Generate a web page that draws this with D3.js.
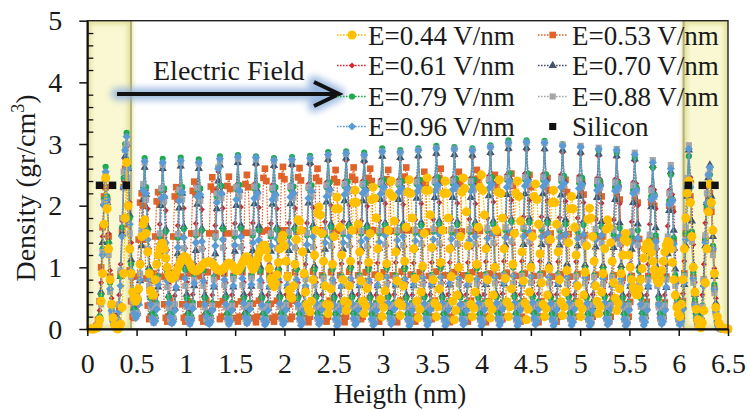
<!DOCTYPE html>
<html>
<head>
<meta charset="utf-8">
<script src="https://cdn.jsdelivr.net/npm/d3@7"></script>
<style>
  body { margin: 0; background: #fff; }
  svg { display: block; }
  text { font-family: "Liberation Serif", "Times New Roman", serif; fill: #1a1a1a; }
</style>
</head>
<body>
<svg id="chart" width="749" height="410"></svg>
<script>
// Sampling positions across the channel (nm)
const heights = [
  0.033,0.048,0.064,0.079,0.094,0.109,0.125,0.140,
  0.155,0.170,0.186,0.201,0.216,0.231,0.247,0.262,
  0.277,0.292,0.308,0.323,0.338,0.353,0.369,0.384,
  0.399,0.414,0.430,0.445,0.460,0.475,0.491,0.506,
  0.521,0.536,0.552,0.567,0.582,0.597,0.613,0.628,
  0.643,0.658,0.674,0.689,0.704,0.719,0.735,0.750,
  0.765,0.780,0.796,0.811,0.826,0.841,0.857,0.872,
  0.887,0.902,0.918,0.933,0.948,0.963,0.979,0.994,
  1.009,1.024,1.040,1.055,1.070,1.085,1.101,1.116,
  1.131,1.146,1.162,1.177,1.192,1.207,1.223,1.238,
  1.253,1.268,1.284,1.299,1.314,1.329,1.345,1.360,
  1.375,1.390,1.406,1.421,1.436,1.451,1.467,1.482,
  1.497,1.512,1.528,1.543,1.558,1.573,1.589,1.604,
  1.619,1.634,1.650,1.665,1.680,1.695,1.711,1.726,
  1.741,1.756,1.772,1.787,1.802,1.817,1.833,1.848,
  1.863,1.878,1.894,1.909,1.924,1.939,1.955,1.970,
  1.985,2.000,2.016,2.031,2.046,2.061,2.077,2.092,
  2.107,2.122,2.138,2.153,2.168,2.183,2.199,2.214,
  2.229,2.244,2.260,2.275,2.290,2.305,2.321,2.336,
  2.351,2.366,2.382,2.397,2.412,2.427,2.443,2.458,
  2.473,2.488,2.504,2.519,2.534,2.549,2.565,2.580,
  2.595,2.610,2.626,2.641,2.656,2.671,2.687,2.702,
  2.717,2.732,2.748,2.763,2.778,2.793,2.809,2.824,
  2.839,2.854,2.870,2.885,2.900,2.915,2.931,2.946,
  2.961,2.976,2.992,3.007,3.022,3.037,3.053,3.068,
  3.083,3.098,3.114,3.129,3.144,3.159,3.175,3.190,
  3.205,3.220,3.236,3.251,3.266,3.281,3.297,3.312,
  3.327,3.342,3.358,3.373,3.388,3.403,3.419,3.434,
  3.449,3.464,3.480,3.495,3.510,3.525,3.541,3.556,
  3.571,3.586,3.602,3.617,3.632,3.647,3.663,3.678,
  3.693,3.708,3.724,3.739,3.754,3.769,3.785,3.800,
  3.815,3.830,3.846,3.861,3.876,3.891,3.907,3.922,
  3.937,3.952,3.968,3.983,3.998,4.013,4.029,4.044,
  4.059,4.074,4.090,4.105,4.120,4.135,4.151,4.166,
  4.181,4.196,4.212,4.227,4.242,4.257,4.273,4.288,
  4.303,4.318,4.334,4.349,4.364,4.379,4.395,4.410,
  4.425,4.440,4.456,4.471,4.486,4.501,4.517,4.532,
  4.547,4.562,4.578,4.593,4.608,4.623,4.639,4.654,
  4.669,4.684,4.700,4.715,4.730,4.745,4.761,4.776,
  4.791,4.806,4.822,4.837,4.852,4.867,4.883,4.898,
  4.913,4.928,4.944,4.959,4.974,4.989,5.005,5.020,
  5.035,5.050,5.066,5.081,5.096,5.111,5.127,5.142,
  5.157,5.172,5.188,5.203,5.218,5.233,5.249,5.264,
  5.279,5.294,5.310,5.325,5.340,5.355,5.371,5.386,
  5.401,5.416,5.432,5.447,5.462,5.477,5.493,5.508,
  5.523,5.538,5.554,5.569,5.584,5.599,5.615,5.630,
  5.645,5.660,5.676,5.691,5.706,5.721,5.737,5.752,
  5.767,5.782,5.798,5.813,5.828,5.843,5.859,5.874,
  5.889,5.904,5.920,5.935,5.950,5.965,5.981,5.996,
  6.011,6.026,6.042,6.057,6.072,6.087,6.103,6.118,
  6.133,6.148,6.164,6.179,6.194,6.209,6.225,6.240,
  6.255,6.270,6.286,6.301,6.316,6.331,6.347,6.362,
  6.377,6.392,6.408,6.423,6.438,6.453,6.469,6.484,
  6.499
];

// Water density (gr/cm^3) at each height, one list per applied field
const field044 = [
  0,0,0,0.01,0.02,0.05,0.15,0.45,0.9,1.7,
  2.45,1.95,1.3,0.8,0.4,0.18,0.06,0.02,0,0.02,0.08,0.35,0.9,1.8,
  2.7,2.0,1.3,0.9,0.6,0.5,0.45,0.5,0.65,1.05,1.5,1.7,
  1.77,1.55,1.25,0.9,0.62,0.55,0.55,0.8,1.05,1.2,1.3,1.37,
  1.39,1.3,1.15,1.0,0.88,0.84,0.82,0.83,0.86,0.92,0.98,1.04,
  1.1,1.14,1.17,1.17,1.15,1.1,1.06,1.01,0.97,0.95,0.94,0.95,
  0.97,0.99,1.02,1.05,1.07,1.08,1.09,1.09,1.08,1.06,1.03,1.0,0.97,0.96,
  0.95,0.95,0.97,0.99,1.02,1.05,1.07,1.06,1.04,1.0,0.97,0.95,
  0.95,0.98,1.02,1.07,1.12,1.16,1.17,1.13,1.08,1.02,0.97,0.99,
  1.05,1.14,1.22,1.28,1.33,1.36,1.36,1.28,1.15,0.98,0.82,0.73,
  0.69,0.74,0.88,1.08,1.3,1.45,1.52,1.35,1.1,0.85,0.63,0.53,
  0.5,0.7,1.05,1.45,1.77,1.75,1.6,1.25,0.9,0.6,0.4,0.32,
  0.28,0.45,0.8,1.2,1.6,1.88,1.98,1.85,1.55,1.1,0.7,0.4,
  0.25,0.38,0.65,1.05,1.5,1.95,2.14,1.95,1.65,1.2,0.8,0.45,
  0.3,0.42,0.7,1.1,1.6,2.05,2.25,2.05,1.7,1.25,0.78,0.45,
  0.25,0.38,0.66,1.08,1.55,2.1,2.3,2.12,1.8,1.3,0.85,0.48,
  0.2,0.35,0.62,1.06,1.6,2.2,2.4,2.15,1.75,1.25,0.78,0.42,
  0.22,0.38,0.7,1.1,1.65,2.22,2.42,2.2,1.8,1.3,0.82,0.45,
  0.18,0.32,0.6,1.02,1.55,2.25,2.45,2.25,1.85,1.32,0.8,0.42,
  0.2,0.36,0.65,1.08,1.6,2.2,2.4,2.2,1.8,1.3,0.85,0.45,
  0.15,0.3,0.55,1.0,1.5,2.22,2.45,2.28,1.9,1.35,0.82,0.4,
  0.2,0.34,0.6,1.05,1.65,2.3,2.5,2.25,1.85,1.3,0.8,0.42,
  0.18,0.32,0.55,1.0,1.6,2.22,2.42,2.2,1.8,1.3,0.82,0.44,
  0.2,0.36,0.65,1.05,1.55,2.2,2.4,2.15,1.75,1.25,0.78,0.42,
  0.15,0.32,0.6,1.0,1.5,2.15,2.35,2.1,1.7,1.22,0.75,0.4,
  0.2,0.33,0.55,0.98,1.45,2.05,2.25,2.05,1.7,1.25,0.8,0.44,
  0.22,0.36,0.6,0.95,1.4,1.95,2.15,1.95,1.65,1.2,0.7,0.42,
  0.2,0.33,0.55,0.92,1.35,1.78,1.96,1.8,1.5,1.1,0.7,0.45,
  0.25,0.36,0.6,0.9,1.3,1.62,1.77,1.65,1.4,1.1,0.75,0.5,
  0.3,0.42,0.65,0.9,1.2,1.45,1.55,1.42,1.2,1.0,0.8,0.68,
  0.6,0.56,0.55,0.65,0.8,0.98,1.15,1.3,1.38,1.4,1.35,1.24,
  1.1,0.96,0.85,0.78,0.75,0.82,0.95,1.1,1.25,1.36,1.42,1.4,
  1.3,1.08,0.8,0.55,0.35,0.24,0.2,0.4,0.8,1.3,1.8,2.2,
  2.4,2.05,1.5,1.0,0.6,0.32,0.15,0.06,0.02,0.1,0.3,0.75,1.3,1.9,
  2.35,2.05,1.6,0.9,0.35,0.2,0.1,0.05,0.02,0.01,0,0,0
];
const field053 = [
  0,0,0,0.01,0.05,0.15,0.45,1.0,1.65,2.15,
  2.3,2.1,1.5,0.85,0.4,0.15,0.06,0.05,0.12,0.35,0.9,1.6,2.3,
  2.6,2.35,1.7,0.95,0.45,0.2,0.18,0.4,0.85,1.45,2.05,
  2.2,2.0,1.45,0.82,0.38,0.16,0.2,0.45,0.9,1.5,2.07,
  2.22,2.02,1.5,0.85,0.4,0.18,0.12,0.2,0.45,0.9,1.5,2.15,
  2.3,2.1,1.5,0.85,0.4,0.18,0.12,0.2,0.45,0.9,1.55,2.24,
  2.39,2.19,1.55,0.86,0.4,0.18,0.12,0.2,0.46,0.92,1.55,2.31,
  2.46,2.26,1.55,0.85,0.4,0.16,0.2,0.45,0.9,1.55,2.32,
  2.47,2.27,1.55,0.86,0.4,0.18,0.12,0.2,0.45,0.92,1.56,2.35,
  2.5,2.3,1.56,0.86,0.41,0.18,0.11,0.2,0.46,0.93,1.58,2.45,
  2.6,2.4,1.6,0.88,0.41,0.18,0.12,0.2,0.46,0.93,1.6,2.48,
  2.63,2.43,1.6,0.87,0.4,0.16,0.2,0.46,0.92,1.58,2.46,
  2.61,2.41,1.6,0.88,0.41,0.18,0.11,0.2,0.46,0.93,1.6,2.45,
  2.6,2.4,1.6,0.87,0.4,0.18,0.12,0.2,0.46,0.92,1.59,2.43,
  2.58,2.38,1.59,0.87,0.41,0.18,0.11,0.2,0.46,0.93,1.6,2.47,
  2.62,2.42,1.6,0.87,0.4,0.16,0.2,0.46,0.92,1.59,2.45,
  2.6,2.4,1.6,0.88,0.41,0.18,0.12,0.2,0.46,0.92,1.59,2.43,
  2.58,2.38,1.59,0.87,0.4,0.18,0.11,0.2,0.46,0.93,1.6,2.47,
  2.62,2.42,1.6,0.88,0.41,0.18,0.12,0.2,0.46,0.92,1.57,2.4,
  2.55,2.35,1.58,0.86,0.4,0.16,0.2,0.46,0.93,1.6,2.45,
  2.6,2.4,1.6,0.87,0.41,0.18,0.11,0.2,0.46,0.92,1.57,2.4,
  2.55,2.35,1.58,0.87,0.4,0.18,0.12,0.2,0.46,0.92,1.58,2.43,
  2.58,2.38,1.59,0.87,0.41,0.18,0.11,0.2,0.45,0.9,1.55,2.35,
  2.5,2.3,1.56,0.86,0.4,0.16,0.2,0.45,0.91,1.56,2.37,
  2.52,2.32,1.57,0.86,0.41,0.18,0.12,0.2,0.45,0.9,1.55,2.35,
  2.5,2.3,1.56,0.86,0.4,0.18,0.11,0.2,0.45,0.9,1.53,2.3,
  2.45,2.25,1.55,0.85,0.4,0.18,0.12,0.2,0.45,0.89,1.52,2.27,
  2.42,2.22,1.54,0.85,0.4,0.16,0.2,0.45,0.89,1.5,2.23,
  2.38,2.18,1.52,0.84,0.4,0.18,0.11,0.2,0.44,0.88,1.5,2.2,
  2.35,2.15,1.5,0.84,0.4,0.18,0.12,0.2,0.44,0.87,1.48,2.15,
  2.3,2.1,1.48,0.83,0.4,0.18,0.11,0.2,0.44,0.86,1.45,2.1,
  2.25,2.05,1.46,0.82,0.39,0.16,0.2,0.44,0.86,1.44,2.05,
  2.2,2.0,1.44,0.82,0.39,0.18,0.12,0.2,0.43,0.85,1.42,2.0,
  2.15,1.95,1.42,0.8,0.38,0.17,0.11,0.2,0.45,0.9,1.55,2.25,
  2.4,2.15,1.52,0.84,0.4,0.17,0.08,0.06,0.12,0.32,0.8,1.45,1.95,2.1,
  2.2,1.9,1.3,0.65,0.28,0.1,0.03,0.01,0,0,0,0,0
];
const field061 = [
  0,0,0,0.01,0.04,0.1,0.3,0.75,1.5,2.1,
  2.4,2.05,1.55,0.95,0.5,0.24,0.14,0.14,0.25,0.55,1.05,1.75,2.4,2.75,
  2.95,2.6,2.05,1.4,0.82,0.45,0.3,0.36,0.6,1.1,1.75,2.35,
  2.6,2.25,1.95,1.3,0.75,0.38,0.22,0.3,0.55,1.05,1.7,2.3,
  2.58,2.23,1.92,1.28,0.74,0.37,0.21,0.29,0.54,1.03,1.68,2.28,
  2.62,2.27,1.96,1.31,0.76,0.38,0.22,0.3,0.56,1.06,1.71,2.32,
  2.6,2.25,1.94,1.3,0.75,0.38,0.23,0.22,0.3,0.55,1.04,1.68,2.25,2.55,
  2.64,2.29,1.96,1.31,0.75,0.37,0.22,0.3,0.55,1.05,1.71,2.33,
  2.68,2.32,1.98,1.32,0.76,0.38,0.22,0.3,0.56,1.06,1.72,2.35,
  2.66,2.31,1.97,1.31,0.75,0.37,0.21,0.29,0.55,1.05,1.71,2.34,
  2.62,2.27,1.95,1.3,0.76,0.38,0.22,0.3,0.56,1.06,1.72,2.34,
  2.64,2.29,1.96,1.31,0.75,0.37,0.21,0.29,0.55,1.05,1.72,2.35,
  2.66,2.31,1.97,1.32,0.76,0.38,0.22,0.3,0.56,1.07,1.74,2.38,
  2.72,2.36,2.0,1.33,0.75,0.37,0.21,0.29,0.55,1.06,1.74,2.4,
  2.73,2.37,2.01,1.34,0.76,0.38,0.22,0.3,0.56,1.07,1.75,2.4,
  2.7,2.35,1.99,1.33,0.75,0.37,0.21,0.29,0.55,1.07,1.76,2.42,
  2.78,2.41,2.03,1.35,0.76,0.38,0.22,0.3,0.56,1.08,1.76,2.42,
  2.75,2.39,2.02,1.34,0.75,0.37,0.21,0.29,0.55,1.07,1.77,2.44,
  2.78,2.41,2.03,1.35,0.76,0.38,0.22,0.3,0.56,1.08,1.78,2.45,
  2.82,2.45,2.05,1.36,0.75,0.37,0.21,0.29,0.56,1.08,1.78,2.45,
  2.8,2.43,2.04,1.36,0.76,0.38,0.22,0.3,0.56,1.08,1.78,2.45,
  2.78,2.42,2.03,1.35,0.75,0.37,0.21,0.29,0.56,1.09,1.8,2.48,
  2.83,2.46,2.06,1.37,0.76,0.38,0.22,0.3,0.57,1.1,1.81,2.5,
  2.9,2.52,2.09,1.38,0.76,0.37,0.21,0.29,0.56,1.1,1.82,2.52,
  2.9,2.52,2.09,1.38,0.76,0.38,0.22,0.3,0.57,1.1,1.82,2.51,
  2.9,2.51,2.08,1.37,0.75,0.37,0.21,0.29,0.56,1.09,1.81,2.5,
  2.86,2.48,2.07,1.37,0.76,0.38,0.22,0.3,0.56,1.09,1.8,2.48,
  2.83,2.46,2.05,1.36,0.75,0.37,0.21,0.29,0.56,1.08,1.78,2.45,
  2.8,2.43,2.04,1.35,0.76,0.38,0.22,0.3,0.56,1.08,1.77,2.43,
  2.78,2.41,2.03,1.35,0.75,0.37,0.21,0.29,0.55,1.06,1.74,2.38,
  2.72,2.36,2.0,1.33,0.76,0.38,0.22,0.3,0.55,1.05,1.7,2.3,
  2.6,2.26,1.95,1.3,0.75,0.38,0.22,0.3,0.55,1.04,1.67,2.25,
  2.5,2.18,1.9,1.28,0.74,0.37,0.21,0.3,0.57,1.1,1.8,2.45,
  2.82,2.46,2.06,1.37,0.76,0.38,0.23,0.22,0.3,0.55,1.05,1.72,2.3,2.48,
  2.52,2.15,1.62,0.98,0.5,0.2,0.07,0.02,0,0,0,0,0
];
const field070 = [
  0,0,0,0,0.02,0.06,0.22,0.6,1.4,2.05,
  2.45,2.05,1.42,0.8,0.4,0.18,0.1,0.1,0.18,0.4,0.85,1.55,2.3,2.8,
  3.0,2.6,1.85,1.12,0.62,0.34,0.24,0.28,0.42,0.78,1.35,2.1,
  2.62,2.18,1.65,1.0,0.55,0.28,0.16,0.2,0.35,0.68,1.25,2.0,
  2.6,2.15,1.62,0.98,0.54,0.27,0.15,0.19,0.34,0.66,1.22,1.96,
  2.64,2.2,1.66,1.01,0.56,0.28,0.16,0.2,0.36,0.7,1.27,2.02,
  2.6,2.16,1.63,0.99,0.55,0.28,0.17,0.15,0.2,0.35,0.68,1.22,1.95,2.4,
  2.66,2.21,1.66,1.0,0.55,0.27,0.16,0.2,0.35,0.68,1.26,2.0,
  2.7,2.25,1.68,1.02,0.56,0.28,0.16,0.2,0.36,0.69,1.27,2.03,
  2.69,2.24,1.67,1.01,0.55,0.27,0.15,0.19,0.35,0.68,1.26,2.02,
  2.65,2.2,1.65,1.0,0.56,0.28,0.16,0.2,0.36,0.69,1.27,2.03,
  2.67,2.22,1.66,1.0,0.55,0.27,0.15,0.19,0.35,0.68,1.27,2.04,
  2.7,2.25,1.68,1.02,0.56,0.28,0.16,0.2,0.36,0.7,1.29,2.06,
  2.75,2.29,1.7,1.02,0.55,0.27,0.15,0.19,0.35,0.69,1.29,2.08,
  2.77,2.31,1.71,1.03,0.56,0.28,0.16,0.2,0.36,0.7,1.3,2.08,
  2.74,2.28,1.69,1.02,0.55,0.27,0.15,0.19,0.35,0.7,1.31,2.1,
  2.8,2.33,1.72,1.03,0.56,0.28,0.16,0.2,0.36,0.71,1.31,2.1,
  2.78,2.31,1.71,1.02,0.55,0.27,0.15,0.19,0.35,0.7,1.32,2.12,
  2.81,2.34,1.73,1.03,0.56,0.28,0.16,0.2,0.36,0.71,1.33,2.13,
  2.85,2.37,1.75,1.04,0.55,0.27,0.15,0.19,0.36,0.71,1.33,2.13,
  2.83,2.36,1.74,1.04,0.56,0.28,0.16,0.2,0.36,0.71,1.33,2.13,
  2.82,2.35,1.73,1.03,0.55,0.27,0.15,0.19,0.36,0.72,1.35,2.16,
  2.86,2.38,1.75,1.04,0.56,0.28,0.16,0.2,0.37,0.73,1.36,2.18,
  2.93,2.44,1.78,1.05,0.56,0.27,0.15,0.19,0.36,0.73,1.37,2.19,
  2.94,2.45,1.79,1.06,0.56,0.28,0.16,0.2,0.37,0.73,1.37,2.19,
  2.92,2.43,1.78,1.05,0.55,0.27,0.15,0.19,0.36,0.72,1.36,2.17,
  2.9,2.41,1.77,1.05,0.56,0.28,0.16,0.2,0.36,0.72,1.35,2.15,
  2.87,2.39,1.75,1.04,0.55,0.27,0.15,0.19,0.36,0.71,1.33,2.13,
  2.84,2.36,1.74,1.03,0.56,0.28,0.16,0.2,0.36,0.71,1.32,2.1,
  2.81,2.34,1.72,1.03,0.55,0.27,0.15,0.19,0.35,0.69,1.29,2.05,
  2.76,2.3,1.7,1.02,0.56,0.28,0.16,0.2,0.35,0.68,1.25,1.98,
  2.65,2.2,1.64,0.99,0.55,0.28,0.16,0.2,0.35,0.67,1.22,1.92,
  2.55,2.12,1.6,0.97,0.54,0.27,0.15,0.2,0.37,0.72,1.35,2.15,
  2.9,2.42,1.75,1.04,0.56,0.28,0.17,0.15,0.2,0.36,0.72,1.35,2.05,2.45,
  2.66,2.15,1.5,0.85,0.42,0.16,0.05,0.01,0,0,0,0,0
];
const field079 = [
  0,0,0,0,0.02,0.05,0.2,0.55,1.3,2.1,
  2.63,2.15,1.4,0.75,0.35,0.16,0.08,0.08,0.15,0.38,0.85,1.65,2.45,3.0,
  3.18,2.65,1.8,1.05,0.6,0.32,0.22,0.28,0.48,0.9,1.55,2.3,
  2.77,2.3,1.6,0.95,0.5,0.25,0.14,0.2,0.42,0.85,1.5,2.25,
  2.76,2.28,1.58,0.93,0.52,0.26,0.15,0.19,0.4,0.83,1.48,2.22,
  2.78,2.3,1.62,0.96,0.5,0.24,0.13,0.2,0.43,0.86,1.52,2.26,
  2.75,2.28,1.6,0.95,0.5,0.25,0.15,0.14,0.2,0.42,0.84,1.48,2.15,2.62,
  2.8,2.32,1.62,0.96,0.51,0.25,0.13,0.19,0.42,0.85,1.5,2.27,
  2.82,2.34,1.63,0.97,0.5,0.24,0.14,0.2,0.43,0.86,1.52,2.28,
  2.8,2.32,1.6,0.94,0.5,0.25,0.12,0.18,0.41,0.84,1.5,2.26,
  2.77,2.3,1.61,0.95,0.51,0.26,0.15,0.2,0.42,0.85,1.51,2.27,
  2.79,2.31,1.62,0.96,0.5,0.24,0.12,0.18,0.41,0.85,1.52,2.28,
  2.81,2.33,1.63,0.96,0.51,0.25,0.14,0.2,0.43,0.86,1.53,2.3,
  2.87,2.38,1.65,0.97,0.5,0.24,0.12,0.18,0.42,0.86,1.54,2.32,
  2.88,2.39,1.66,0.98,0.51,0.25,0.15,0.2,0.43,0.87,1.55,2.33,
  2.86,2.37,1.64,0.96,0.5,0.24,0.12,0.18,0.42,0.86,1.55,2.34,
  2.93,2.42,1.68,0.98,0.51,0.25,0.14,0.2,0.43,0.87,1.56,2.34,
  2.9,2.4,1.66,0.97,0.5,0.24,0.12,0.18,0.42,0.87,1.56,2.35,
  2.93,2.42,1.68,0.98,0.51,0.25,0.13,0.19,0.43,0.88,1.58,2.37,
  2.97,2.46,1.7,0.99,0.5,0.24,0.12,0.18,0.42,0.87,1.57,2.36,
  2.95,2.44,1.69,0.98,0.51,0.25,0.14,0.2,0.43,0.88,1.58,2.37,
  2.93,2.42,1.68,0.98,0.5,0.24,0.12,0.18,0.43,0.89,1.6,2.4,
  2.98,2.46,1.7,0.99,0.51,0.25,0.13,0.19,0.43,0.89,1.6,2.42,
  3.06,2.52,1.74,1.0,0.52,0.25,0.12,0.18,0.43,0.9,1.62,2.43,
  3.06,2.52,1.73,1.0,0.51,0.25,0.14,0.2,0.44,0.9,1.62,2.42,
  3.05,2.51,1.72,0.99,0.5,0.24,0.12,0.18,0.43,0.89,1.6,2.4,
  3.0,2.48,1.7,0.98,0.51,0.25,0.13,0.19,0.43,0.88,1.58,2.37,
  2.96,2.45,1.69,0.98,0.5,0.24,0.12,0.18,0.42,0.87,1.55,2.33,
  2.9,2.4,1.66,0.97,0.51,0.25,0.14,0.2,0.43,0.86,1.53,2.3,
  2.86,2.37,1.64,0.96,0.5,0.24,0.12,0.18,0.42,0.85,1.5,2.25,
  2.78,2.3,1.6,0.94,0.5,0.25,0.13,0.19,0.41,0.83,1.45,2.15,
  2.62,2.18,1.52,0.9,0.49,0.25,0.15,0.2,0.41,0.82,1.42,2.08,
  2.5,2.1,1.48,0.88,0.48,0.24,0.14,0.2,0.43,0.88,1.55,2.3,
  2.8,2.3,1.58,0.92,0.48,0.24,0.14,0.12,0.18,0.38,0.8,1.45,2.0,2.35,
  2.5,2.02,1.35,0.72,0.34,0.13,0.04,0.01,0,0,0,0,0
];
const field088 = [
  0,0,0,0,0.01,0.03,0.12,0.4,1.25,2.05,
  2.5,2.0,1.2,0.6,0.26,0.1,0.05,0.06,0.14,0.4,0.95,1.8,2.55,2.9,
  3.0,2.45,1.55,0.85,0.45,0.25,0.2,0.26,0.45,0.9,1.6,2.35,
  2.7,2.1,1.3,0.7,0.35,0.16,0.1,0.16,0.38,0.8,1.55,2.28,
  2.66,2.07,1.28,0.68,0.34,0.15,0.1,0.17,0.4,0.82,1.54,2.26,
  2.7,2.1,1.31,0.7,0.36,0.16,0.09,0.15,0.37,0.8,1.56,2.29,
  2.68,2.08,1.3,0.7,0.35,0.16,0.1,0.1,0.16,0.38,0.8,1.5,2.2,2.62,
  2.72,2.12,1.32,0.71,0.35,0.15,0.09,0.16,0.38,0.81,1.56,2.3,
  2.76,2.15,1.33,0.71,0.36,0.16,0.1,0.16,0.39,0.82,1.57,2.31,
  2.75,2.14,1.32,0.7,0.35,0.15,0.09,0.15,0.37,0.8,1.55,2.29,
  2.72,2.12,1.31,0.7,0.36,0.16,0.1,0.17,0.39,0.82,1.57,2.31,
  2.74,2.13,1.32,0.7,0.35,0.15,0.09,0.15,0.38,0.81,1.56,2.3,
  2.76,2.15,1.33,0.71,0.36,0.16,0.1,0.16,0.39,0.82,1.58,2.33,
  2.82,2.2,1.35,0.72,0.35,0.15,0.09,0.15,0.38,0.82,1.58,2.35,
  2.84,2.22,1.36,0.72,0.36,0.16,0.1,0.16,0.39,0.83,1.59,2.35,
  2.8,2.19,1.34,0.71,0.35,0.15,0.09,0.15,0.38,0.83,1.6,2.37,
  2.88,2.25,1.37,0.73,0.36,0.16,0.1,0.16,0.39,0.83,1.6,2.37,
  2.86,2.23,1.36,0.72,0.35,0.15,0.09,0.15,0.38,0.83,1.61,2.39,
  2.9,2.26,1.38,0.73,0.36,0.16,0.1,0.16,0.39,0.84,1.62,2.4,
  2.93,2.29,1.39,0.73,0.35,0.15,0.09,0.15,0.39,0.84,1.62,2.4,
  2.92,2.28,1.38,0.73,0.36,0.16,0.1,0.16,0.39,0.84,1.62,2.4,
  2.9,2.26,1.38,0.73,0.35,0.15,0.09,0.15,0.39,0.85,1.64,2.43,
  2.95,2.3,1.4,0.74,0.36,0.16,0.1,0.16,0.4,0.86,1.65,2.45,
  3.0,2.34,1.42,0.75,0.36,0.15,0.09,0.15,0.39,0.86,1.66,2.46,
  3.02,2.35,1.42,0.75,0.36,0.16,0.1,0.16,0.4,0.86,1.66,2.46,
  3.02,2.35,1.42,0.74,0.35,0.15,0.09,0.15,0.39,0.85,1.65,2.44,
  2.99,2.33,1.41,0.74,0.36,0.16,0.1,0.16,0.39,0.85,1.64,2.42,
  2.97,2.31,1.4,0.74,0.35,0.15,0.09,0.15,0.39,0.84,1.62,2.4,
  2.94,2.29,1.39,0.73,0.36,0.16,0.1,0.16,0.39,0.84,1.61,2.38,
  2.92,2.27,1.38,0.73,0.35,0.15,0.09,0.15,0.38,0.82,1.58,2.33,
  2.86,2.23,1.36,0.72,0.36,0.16,0.1,0.16,0.38,0.8,1.53,2.25,
  2.74,2.14,1.32,0.7,0.35,0.16,0.1,0.16,0.38,0.8,1.5,2.2,
  2.66,2.08,1.3,0.7,0.35,0.15,0.09,0.16,0.4,0.86,1.65,2.45,
  2.98,2.34,1.42,0.75,0.36,0.16,0.1,0.09,0.15,0.36,0.8,1.52,2.2,2.5,
  2.6,2.0,1.2,0.58,0.24,0.08,0.02,0,0,0,0,0,0
];
const field096 = [
  0,0,0,0,0.01,0.03,0.15,0.45,1.2,2.0,
  2.55,2.1,1.3,0.65,0.3,0.12,0.06,0.05,0.1,0.28,0.7,1.5,2.3,2.9,
  3.12,2.6,1.7,0.95,0.5,0.25,0.18,0.22,0.4,0.8,1.5,2.25,
  2.72,2.2,1.45,0.8,0.4,0.18,0.1,0.13,0.32,0.72,1.38,2.12,
  2.7,2.15,1.4,0.78,0.42,0.2,0.09,0.12,0.3,0.68,1.32,2.08,
  2.73,2.22,1.48,0.82,0.38,0.16,0.08,0.14,0.33,0.74,1.4,2.15,
  2.7,2.18,1.42,0.78,0.4,0.2,0.1,0.08,0.12,0.3,0.7,1.35,2.05,2.6,
  2.76,2.2,1.45,0.8,0.4,0.17,0.08,0.12,0.3,0.7,1.36,2.1,
  2.79,2.25,1.5,0.82,0.42,0.19,0.09,0.13,0.32,0.72,1.4,2.12,
  2.78,2.2,1.44,0.79,0.39,0.16,0.07,0.11,0.3,0.69,1.35,2.1,
  2.74,2.18,1.46,0.81,0.41,0.18,0.08,0.12,0.31,0.71,1.38,2.14,
  2.75,2.2,1.45,0.8,0.4,0.17,0.06,0.1,0.29,0.7,1.37,2.12,
  2.77,2.24,1.5,0.83,0.42,0.18,0.08,0.12,0.31,0.72,1.4,2.15,
  2.83,2.26,1.48,0.8,0.39,0.16,0.05,0.1,0.3,0.7,1.4,2.18,
  2.85,2.28,1.5,0.82,0.41,0.17,0.07,0.11,0.31,0.72,1.42,2.2,
  2.82,2.25,1.47,0.8,0.4,0.16,0.06,0.1,0.3,0.71,1.41,2.19,
  2.88,2.3,1.52,0.84,0.42,0.18,0.08,0.12,0.32,0.73,1.44,2.22,
  2.87,2.28,1.5,0.81,0.4,0.16,0.05,0.1,0.3,0.72,1.43,2.22,
  2.9,2.3,1.52,0.83,0.41,0.17,0.06,0.11,0.31,0.73,1.45,2.24,
  2.93,2.33,1.54,0.84,0.42,0.17,0.05,0.1,0.31,0.74,1.46,2.26,
  2.92,2.32,1.52,0.82,0.4,0.16,0.07,0.11,0.3,0.72,1.44,2.24,
  2.9,2.3,1.5,0.81,0.41,0.17,0.05,0.1,0.31,0.74,1.47,2.28,
  2.95,2.35,1.55,0.84,0.42,0.17,0.06,0.11,0.32,0.75,1.48,2.3,
  3.02,2.4,1.58,0.86,0.42,0.17,0.05,0.1,0.31,0.75,1.5,2.32,
  3.03,2.4,1.57,0.85,0.43,0.18,0.07,0.12,0.32,0.76,1.5,2.31,
  3.02,2.38,1.55,0.84,0.41,0.16,0.05,0.1,0.31,0.75,1.49,2.3,
  2.97,2.36,1.54,0.84,0.42,0.17,0.06,0.11,0.32,0.74,1.47,2.28,
  2.95,2.34,1.53,0.83,0.41,0.16,0.05,0.1,0.3,0.73,1.45,2.25,
  2.92,2.32,1.52,0.82,0.42,0.17,0.07,0.12,0.32,0.73,1.44,2.24,
  2.9,2.3,1.5,0.81,0.4,0.16,0.05,0.1,0.3,0.71,1.4,2.2,
  2.83,2.25,1.47,0.8,0.4,0.17,0.06,0.11,0.3,0.7,1.36,2.1,
  2.7,2.15,1.42,0.78,0.4,0.18,0.08,0.12,0.3,0.68,1.3,2.02,
  2.6,2.08,1.38,0.76,0.38,0.17,0.07,0.12,0.32,0.75,1.45,2.3,
  2.92,2.3,1.5,0.82,0.4,0.18,0.08,0.06,0.1,0.28,0.7,1.4,2.05,2.5,
  2.62,2.05,1.3,0.65,0.28,0.1,0.03,0.01,0,0,0,0,0
];

// Bulk silicon density at the wall atom layers
const siliconHeights = [0.124, 0.256, 0.396, 6.097, 6.239, 6.368];
const siliconDensity = [2.33, 2.33, 2.33, 2.33, 2.33, 2.33];

// Silicon wall extents (nm)
const wallLeft = [0, 0.443];
const wallRight = [6.05, 6.5];

const fieldLabels = ["E=0.44 V/nm", "E=0.53 V/nm", "E=0.61 V/nm", "E=0.70 V/nm",
                     "E=0.79 V/nm", "E=0.88 V/nm", "E=0.96 V/nm"];
const siliconLabel = "Silicon";
const xTickValues = [0, 0.5, 1, 1.5, 2, 2.5, 3, 3.5, 4, 4.5, 5, 5.5, 6, 6.5];
const yTickValues = [0, 1, 2, 3, 4, 5];

const fieldSeries = [field044, field053, field061, field070, field079, field088, field096];
fieldSeries.forEach((s, i) => {
  if (s.length !== heights.length) throw new Error(fieldLabels[i] + " has " + s.length + " values, expected " + heights.length);
});

// Square turned 45 degrees (spreadsheet-style diamond marker)
const symbolRhomb = {
  draw(ctx, size) {
    const r = Math.sqrt(size / 2);
    ctx.moveTo(0, -r); ctx.lineTo(r, 0); ctx.lineTo(0, r); ctx.lineTo(-r, 0); ctx.closePath();
  }
};

// Marker / line styling per field
const styles = [
  { color: "#FFC000", symbol: d3.symbolCircle,   size: 64, dash: "1.6,1.4" },
  { color: "#E0642A", symbol: d3.symbolSquare,   size: 44, dash: "1.6,1.4" },
  { color: "#D6262C", symbol: symbolRhomb,       size: 18, dash: "1.6,1.4" },
  { color: "#44546A", symbol: d3.symbolTriangle, size: 30, dash: "1.6,1.4" },
  { color: "#1BAA4C", symbol: d3.symbolCircle,   size: 30, dash: "1.6,1.4" },
  { color: "#A6A6A6", symbol: d3.symbolSquare,   size: 38, dash: "1.6,1.4" },
  { color: "#5B9BD5", symbol: symbolRhomb,       size: 34, dash: "2.6,1" }
];

const svg = d3.select("#chart");
const x = d3.scaleLinear().domain([0, 6.5]).range([87.3, 728]);
const y = d3.scaleLinear().domain([0, 5]).range([329, 20.7]);

const defs = svg.append("defs");
defs.append("filter").attr("id", "soft").attr("x", "-20%").attr("y", "-20%").attr("width", "140%").attr("height", "140%")
  .append("feGaussianBlur").attr("stdDeviation", 2);
defs.append("filter").attr("id", "glow").attr("x", "-20%").attr("y", "-200%").attr("width", "140%").attr("height", "500%")
  .append("feGaussianBlur").attr("stdDeviation", 3.5);
defs.append("clipPath").attr("id", "plotClip").append("rect")
  .attr("x", x(0)).attr("y", y(5)).attr("width", x(6.5) - x(0)).attr("height", y(0) - y(5));

// Silicon wall bands
const walls = svg.append("g").attr("clip-path", "url(#plotClip)");
[wallLeft, wallRight].forEach(w => {
  const x0 = x(w[0]), x1 = x(w[1]);
  walls.append("rect").attr("x", x0).attr("y", y(5)).attr("width", x1 - x0).attr("height", y(0) - y(5))
    .attr("fill", "#F9F8D2");
  walls.append("rect").attr("x", x0 + 1).attr("y", y(5) + 1).attr("width", x1 - x0 - 2).attr("height", y(0) - y(5) - 2)
    .attr("fill", "none").attr("stroke", "#E0DE98").attr("stroke-width", 5).attr("filter", "url(#soft)");
});
walls.append("line").attr("x1", x(wallLeft[1])).attr("x2", x(wallLeft[1])).attr("y1", y(5)).attr("y2", y(0))
  .attr("stroke", "#B5B078").attr("stroke-width", 2);
walls.append("line").attr("x1", x(wallRight[0])).attr("x2", x(wallRight[0])).attr("y1", y(5)).attr("y2", y(0))
  .attr("stroke", "#B5B078").attr("stroke-width", 2);

// Density profiles
const plot = svg.append("g");
const drawOrder = [1, 2, 3, 4, 5, 6, 0];
drawOrder.forEach(si => {
  const vals = fieldSeries[si], st = styles[si];
  const line = d3.line().x((d, i) => x(heights[i])).y(d => y(d));
  plot.append("path").datum(vals).attr("d", line)
    .attr("fill", "none").attr("stroke", st.color).attr("stroke-width", 1.2)
    .attr("stroke-dasharray", st.dash);
  plot.append("g").selectAll("path").data(vals).join("path")
    .attr("transform", (d, i) => `translate(${x(heights[i])},${y(d)})`)
    .attr("d", d3.symbol().type(st.symbol).size(st.size))
    .attr("fill", st.color);
});
plot.append("g").selectAll("path").data(siliconDensity).join("path")
  .attr("transform", (d, i) => `translate(${x(siliconHeights[i])},${y(d)})`)
  .attr("d", d3.symbol().type(d3.symbolSquare).size(56))
  .attr("fill", "#111");

// Frame
svg.append("rect").attr("x", x(0)).attr("y", y(5)).attr("width", x(6.5) - x(0)).attr("height", y(0) - y(5))
  .attr("fill", "none").attr("stroke", "#222").attr("stroke-width", 1.4);

// Axes
const fmt = d => String(d);
const xAxis = svg.append("g").attr("transform", `translate(0,${y(0)})`)
  .call(d3.axisBottom(x).tickValues(xTickValues).tickSize(7).tickSizeOuter(0).tickFormat(fmt));
xAxis.select(".domain").attr("stroke", "#111").attr("stroke-width", 2);
xAxis.selectAll(".tick line").attr("stroke", "#111").attr("stroke-width", 1.5);
xAxis.selectAll(".tick text").attr("font-size", 28).attr("font-family", "Liberation Serif").attr("fill", "#1a1a1a")
  .attr("dy", null).attr("y", 43.5);

const yAxis = svg.append("g").attr("transform", `translate(${x(0)},0)`)
  .call(d3.axisLeft(y).tickValues(yTickValues).tickSize(8).tickSizeOuter(0).tickFormat(fmt));
yAxis.select(".domain").attr("stroke", "#111").attr("stroke-width", 2);
yAxis.selectAll(".tick line").attr("stroke", "#111").attr("stroke-width", 1.5);
yAxis.selectAll(".tick text").attr("font-size", 28).attr("font-family", "Liberation Serif").attr("fill", "#1a1a1a")
  .attr("x", -25).attr("dy", "0.33em");

const minorY = d3.range(0, 25).map(i => i * 0.2).filter(v => Math.abs(v - Math.round(v)) > 1e-6);
const yMinor = svg.append("g").attr("transform", `translate(${x(0)},0)`)
  .call(d3.axisRight(y).tickValues(minorY).tickSize(6).tickFormat(""));
yMinor.select(".domain").remove();
yMinor.selectAll(".tick line").attr("stroke", "#111").attr("stroke-width", 1.3);

// Axis titles
svg.append("text").attr("x", 400).attr("y", 403).attr("text-anchor", "middle")
  .attr("font-size", 27).text("Heigth (nm)");
const yt = svg.append("text").attr("transform", "translate(35,188) rotate(-90)").attr("text-anchor", "middle")
  .attr("font-size", 28);
yt.append("tspan").text("Density (gr/cm");
yt.append("tspan").attr("font-size", 18).attr("dy", -11).text("3");
yt.append("tspan").attr("dy", 11).text(")");

// Field direction annotation
const arrowShaft = "M117,94L338,94";
const arrowHead = "M314,82L339,94L314,106";
svg.append("path").attr("d", arrowShaft + arrowHead).attr("fill", "none")
  .attr("stroke", "#8DAEDD").attr("stroke-width", 12).attr("stroke-linecap", "round")
  .attr("stroke-linejoin", "round").attr("opacity", 0.85).attr("filter", "url(#glow)");
svg.append("path").attr("d", arrowShaft).attr("fill", "none").attr("stroke", "#111").attr("stroke-width", 4);
svg.append("path").attr("d", arrowHead).attr("fill", "none").attr("stroke", "#111").attr("stroke-width", 4)
  .attr("stroke-linejoin", "miter");
svg.append("text").attr("x", 153).attr("y", 80).attr("font-size", 28).text("Electric Field");

// Legend
const legendRows = [44.5, 75, 106, 136];
const legendCols = [{ lx0: 337, lx1: 366, mx: 352, tx: 368 }, { lx0: 538, lx1: 567, mx: 552.7, tx: 572 }];
const legendItems = fieldLabels.map((lab, i) => ({ label: lab, style: styles[i] }))
  .concat([{ label: siliconLabel, style: { color: "#111", symbol: d3.symbolSquare, size: 50 }, noLine: true }]);
const lg = svg.append("g");
legendItems.forEach((it, i) => {
  const c = legendCols[i % 2], by = legendRows[Math.floor(i / 2)], my = by - 9.5;
  if (!it.noLine) {
    lg.append("line").attr("x1", c.lx0).attr("x2", c.lx1).attr("y1", my).attr("y2", my)
      .attr("stroke", it.style.color).attr("stroke-width", 1.3).attr("stroke-dasharray", "1.6,1.4");
  }
  lg.append("path").attr("transform", `translate(${c.mx},${my})`)
    .attr("d", d3.symbol().type(it.style.symbol).size(it.style.size)).attr("fill", it.style.color);
  lg.append("text").attr("x", c.tx).attr("y", by).attr("font-size", 27).text(it.label);
});
</script>
</body>
</html>
